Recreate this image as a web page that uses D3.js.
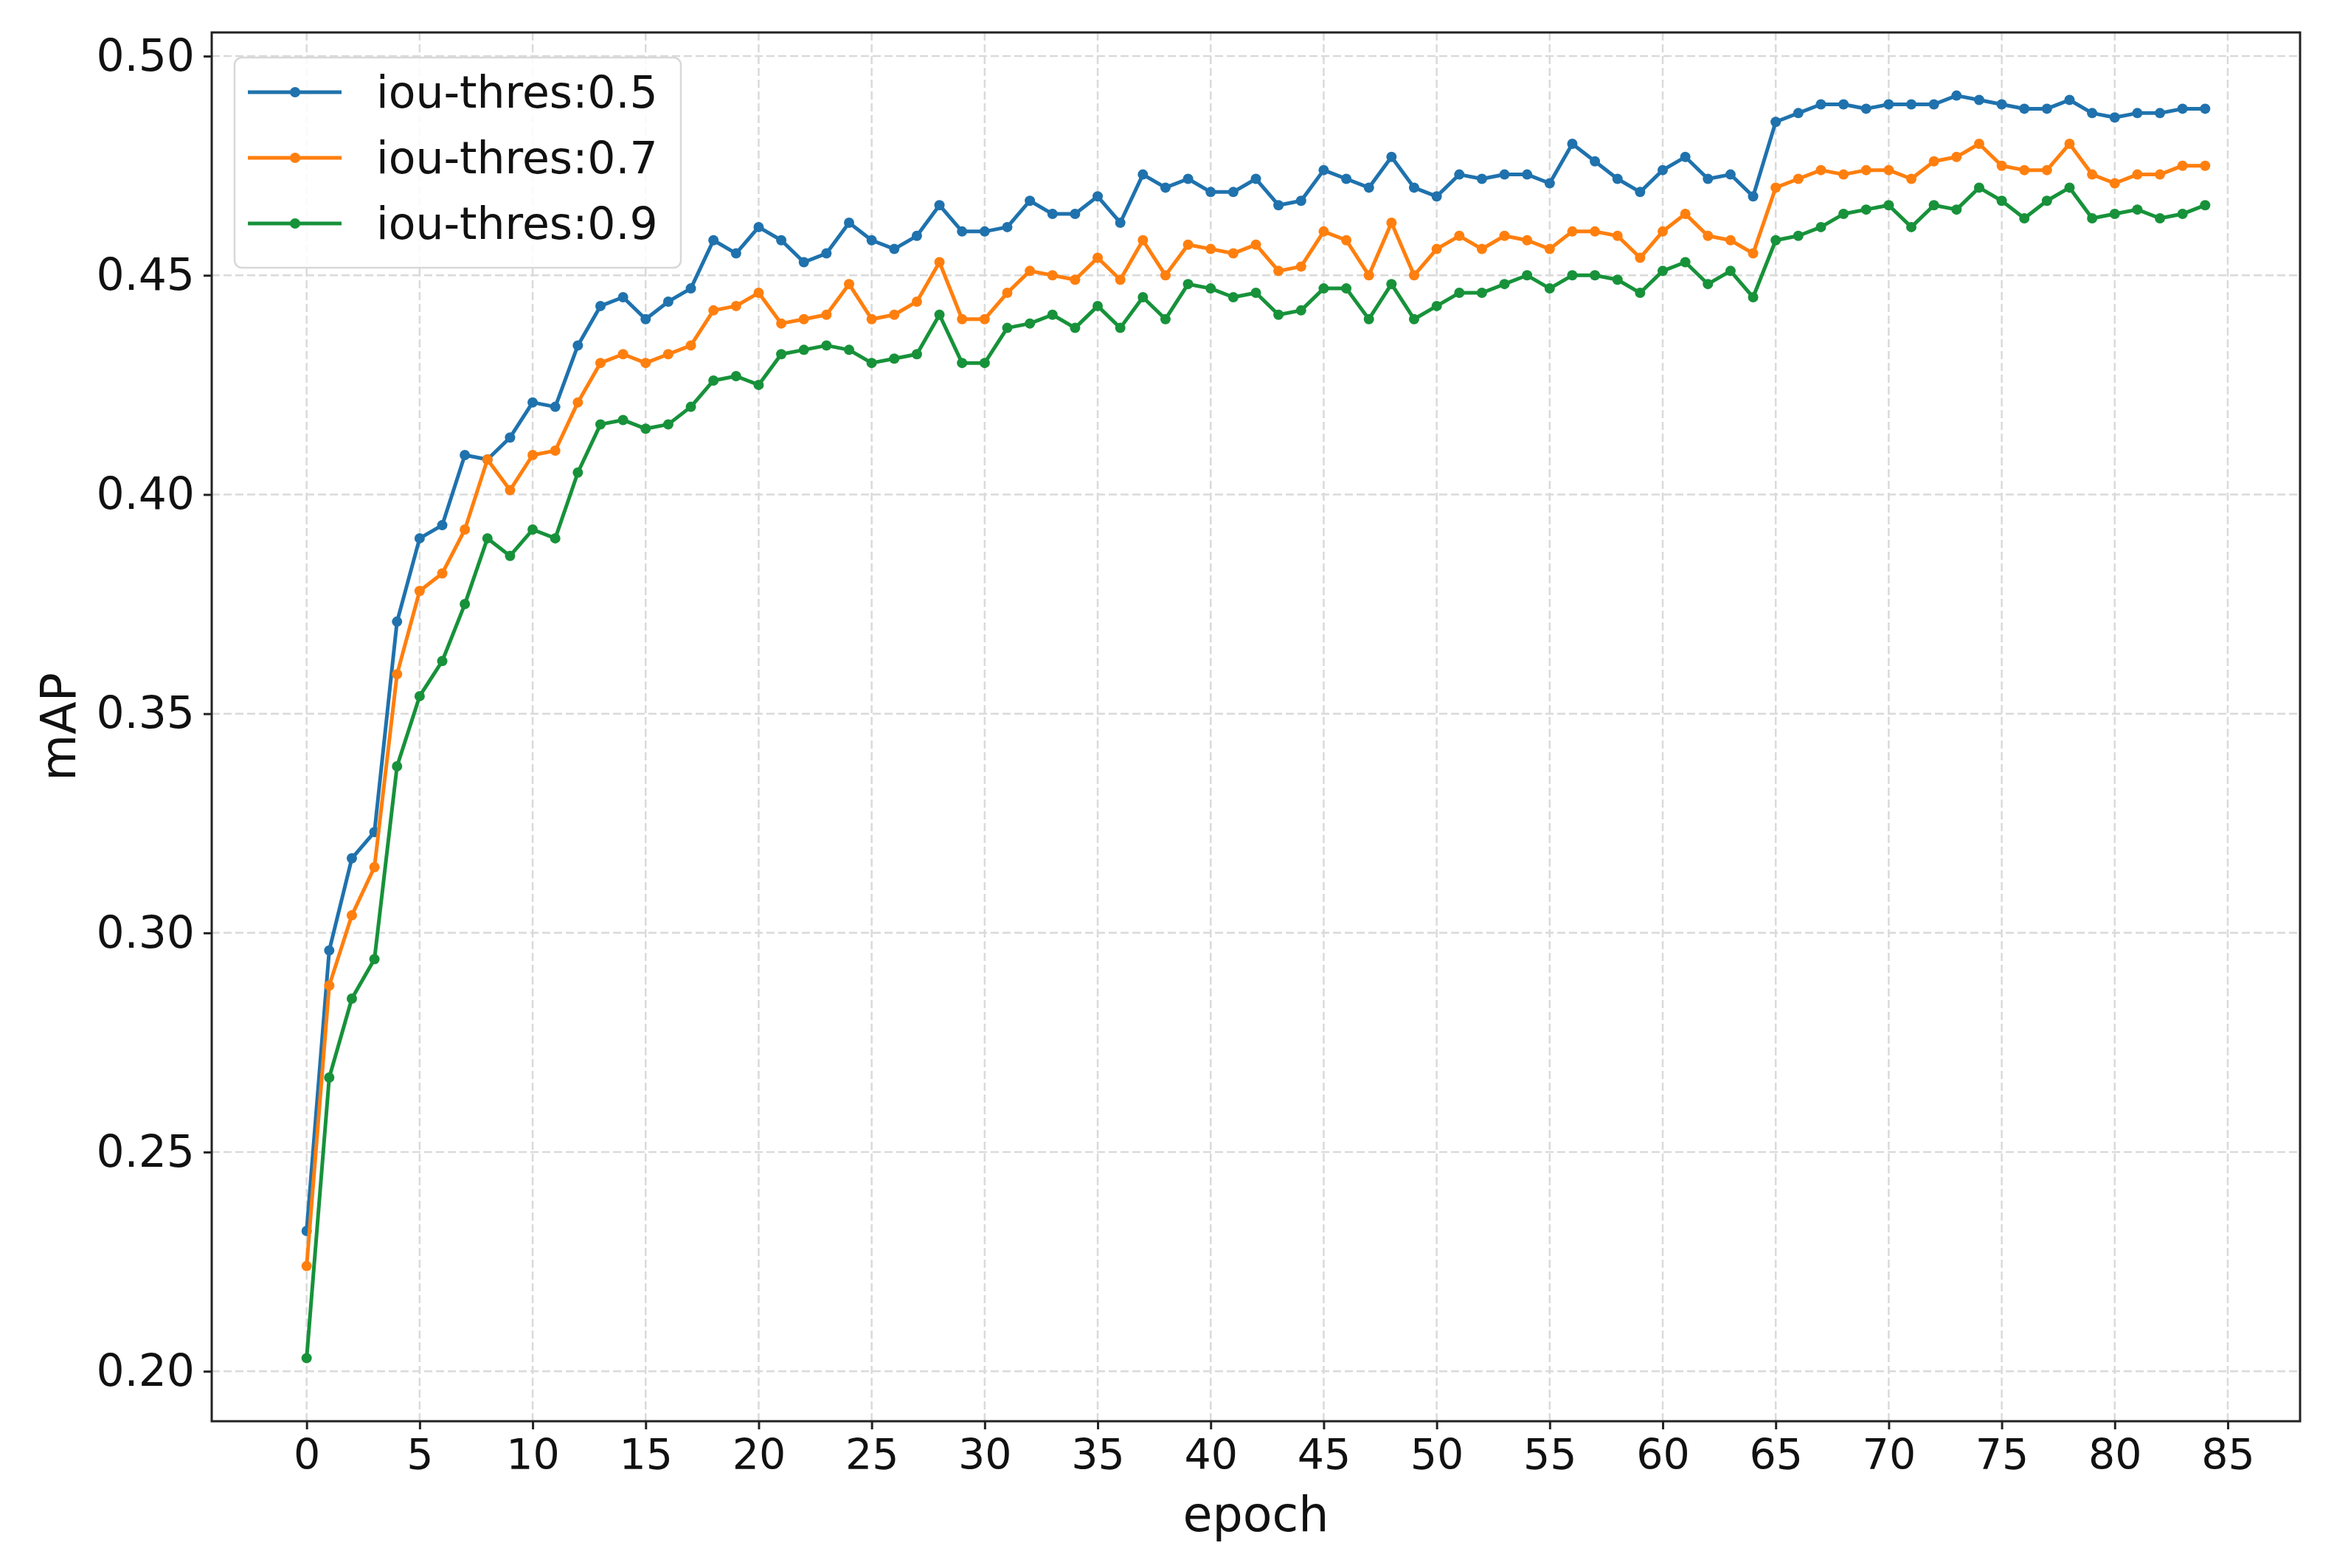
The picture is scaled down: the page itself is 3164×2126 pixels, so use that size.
<!DOCTYPE html>
<html>
<head>
<meta charset="utf-8">
<script src="https://cdn.jsdelivr.net/npm/d3@7"></script>
<style>
  body { margin: 0; background: #fff; }
  svg text { font-family: "DejaVu Sans", sans-serif; fill: #111; }
</style>
</head>
<body>
<div id="chart"></div>
<script>
// mAP per epoch
var epochs = d3.range(0, 85);

var map05 = [
  0.232, 0.296, 0.317, 0.323, 0.371, 0.390, 0.393, 0.409, 0.408, 0.413,
  0.421, 0.420, 0.434, 0.443, 0.445, 0.440, 0.444, 0.447, 0.458, 0.455,
  0.461, 0.458, 0.453, 0.455, 0.462, 0.458, 0.456, 0.459, 0.466, 0.460,
  0.460, 0.461, 0.467, 0.464, 0.464, 0.468, 0.462, 0.473, 0.470, 0.472,
  0.469, 0.469, 0.472, 0.466, 0.467, 0.474, 0.472, 0.470, 0.477, 0.470,
  0.468, 0.473, 0.472, 0.473, 0.473, 0.471, 0.480, 0.476, 0.472, 0.469,
  0.474, 0.477, 0.472, 0.473, 0.468, 0.485, 0.487, 0.489, 0.489, 0.488,
  0.489, 0.489, 0.489, 0.491, 0.490, 0.489, 0.488, 0.488, 0.490, 0.487,
  0.486, 0.487, 0.487, 0.488, 0.488
];

var map07 = [
  0.224, 0.288, 0.304, 0.315, 0.359, 0.378, 0.382, 0.392, 0.408, 0.401,
  0.409, 0.410, 0.421, 0.430, 0.432, 0.430, 0.432, 0.434, 0.442, 0.443,
  0.446, 0.439, 0.440, 0.441, 0.448, 0.440, 0.441, 0.444, 0.453, 0.440,
  0.440, 0.446, 0.451, 0.450, 0.449, 0.454, 0.449, 0.458, 0.450, 0.457,
  0.456, 0.455, 0.457, 0.451, 0.452, 0.460, 0.458, 0.450, 0.462, 0.450,
  0.456, 0.459, 0.456, 0.459, 0.458, 0.456, 0.460, 0.460, 0.459, 0.454,
  0.460, 0.464, 0.459, 0.458, 0.455, 0.470, 0.472, 0.474, 0.473, 0.474,
  0.474, 0.472, 0.476, 0.477, 0.480, 0.475, 0.474, 0.474, 0.480, 0.473,
  0.471, 0.473, 0.473, 0.475, 0.475
];

var map09 = [
  0.203, 0.267, 0.285, 0.294, 0.338, 0.354, 0.362, 0.375, 0.390, 0.386,
  0.392, 0.390, 0.405, 0.416, 0.417, 0.415, 0.416, 0.420, 0.426, 0.427,
  0.425, 0.432, 0.433, 0.434, 0.433, 0.430, 0.431, 0.432, 0.441, 0.430,
  0.430, 0.438, 0.439, 0.441, 0.438, 0.443, 0.438, 0.445, 0.440, 0.448,
  0.447, 0.445, 0.446, 0.441, 0.442, 0.447, 0.447, 0.440, 0.448, 0.440,
  0.443, 0.446, 0.446, 0.448, 0.450, 0.447, 0.450, 0.450, 0.449, 0.446,
  0.451, 0.453, 0.448, 0.451, 0.445, 0.458, 0.459, 0.461, 0.464, 0.465,
  0.466, 0.461, 0.466, 0.465, 0.470, 0.467, 0.463, 0.467, 0.470, 0.463,
  0.464, 0.465, 0.463, 0.464, 0.466
];

var seriesNames = ["iou-thres:0.5", "iou-thres:0.7", "iou-thres:0.9"];
var seriesColors = ["#1f72ad", "#ff7f0e", "#17923a"];
var xTicks = d3.range(0, 90, 5);
var yTicks = [0.20, 0.25, 0.30, 0.35, 0.40, 0.45, 0.50];

var W = 3164, H = 2126;
var plot = {left: 287, right: 3118, top: 44, bottom: 1927};

var svg = d3.select("#chart")
  .append("svg")
    .attr("width", W)
    .attr("height", H);

svg.append("rect")
  .attr("width", W)
  .attr("height", H)
  .attr("fill", "#fff");

var x = d3.scaleLinear()
  .domain([-4.2, 88.2])
  .range([plot.left, plot.right]);

var y = d3.scaleLinear()
  .domain([0.1886, 0.5054])
  .range([plot.bottom, plot.top]);

// grid
var grid = svg.append("g");
grid.selectAll(".vgrid")
  .data(xTicks)
  .enter().append("line")
    .attr("x1", function(d) { return x(d); })
    .attr("x2", function(d) { return x(d); })
    .attr("y1", plot.top)
    .attr("y2", plot.bottom)
    .attr("stroke", "#dadada")
    .attr("stroke-width", 2.5)
    .attr("stroke-dasharray", "11,5");
grid.selectAll(".hgrid")
  .data(yTicks)
  .enter().append("line")
    .attr("x1", plot.left)
    .attr("x2", plot.right)
    .attr("y1", function(d) { return y(d); })
    .attr("y2", function(d) { return y(d); })
    .attr("stroke", "#dadada")
    .attr("stroke-width", 2.5)
    .attr("stroke-dasharray", "11,5");

// lines + markers
var allSeries = [map05, map07, map09];
var line = d3.line()
  .x(function(d, i) { return x(epochs[i]); })
  .y(function(d) { return y(d); });

allSeries.forEach(function(vals, k) {
  var g = svg.append("g");
  g.append("path")
    .datum(vals)
    .attr("d", line)
    .attr("fill", "none")
    .attr("stroke", seriesColors[k])
    .attr("stroke-width", 5)
    .attr("stroke-linejoin", "round");
  g.selectAll("circle")
    .data(vals)
    .enter().append("circle")
      .attr("cx", function(d, i) { return x(epochs[i]); })
      .attr("cy", function(d) { return y(d); })
      .attr("r", 7)
      .attr("fill", seriesColors[k]);
});

// axes
var xAxis = svg.append("g")
  .attr("transform", "translate(0," + plot.bottom + ")")
  .call(d3.axisBottom(x).tickValues(xTicks).tickSize(11).tickPadding(14));
var yAxis = svg.append("g")
  .attr("transform", "translate(" + plot.left + ",0)")
  .call(d3.axisLeft(y).tickValues(yTicks).tickFormat(d3.format(".2f")).tickSize(11).tickPadding(12));

[xAxis, yAxis].forEach(function(a) {
  a.select(".domain").remove();
  a.selectAll(".tick line").attr("stroke", "#222").attr("stroke-width", 3);
  a.selectAll(".tick text")
    .style("font-family", "DejaVu Sans")
    .attr("fill", "#111");
});
xAxis.selectAll(".tick text").style("font-size", "57px");
yAxis.selectAll(".tick text").style("font-size", "60px");

// frame
svg.append("rect")
  .attr("x", plot.left)
  .attr("y", plot.top)
  .attr("width", plot.right - plot.left)
  .attr("height", plot.bottom - plot.top)
  .attr("fill", "none")
  .attr("stroke", "#222")
  .attr("stroke-width", 3);

// axis labels
svg.append("text")
  .attr("x", (plot.left + plot.right) / 2)
  .attr("y", 2076)
  .attr("text-anchor", "middle")
  .style("font-size", "65px")
  .text("epoch");

svg.append("text")
  .attr("transform", "translate(102," + ((plot.top + plot.bottom) / 2) + ") rotate(-90)")
  .attr("text-anchor", "middle")
  .style("font-size", "65px")
  .text("mAP");

// legend
var legend = svg.append("g");
legend.append("rect")
  .attr("x", 318)
  .attr("y", 78)
  .attr("width", 605)
  .attr("height", 285)
  .attr("rx", 10)
  .attr("fill", "#fff")
  .attr("fill-opacity", 0.85)
  .attr("stroke", "#d8d8d8")
  .attr("stroke-width", 2.5);

var rowY = [125, 214, 303];
seriesNames.forEach(function(name, k) {
  legend.append("line")
    .attr("x1", 336).attr("x2", 463)
    .attr("y1", rowY[k]).attr("y2", rowY[k])
    .attr("stroke", seriesColors[k])
    .attr("stroke-width", 5);
  legend.append("circle")
    .attr("cx", 400).attr("cy", rowY[k])
    .attr("r", 7)
    .attr("fill", seriesColors[k]);
  legend.append("text")
    .attr("x", 510)
    .attr("y", rowY[k])
    .attr("dy", "0.35em")
    .style("font-size", "60px")
    .text(name);
});
</script>
</body>
</html>
